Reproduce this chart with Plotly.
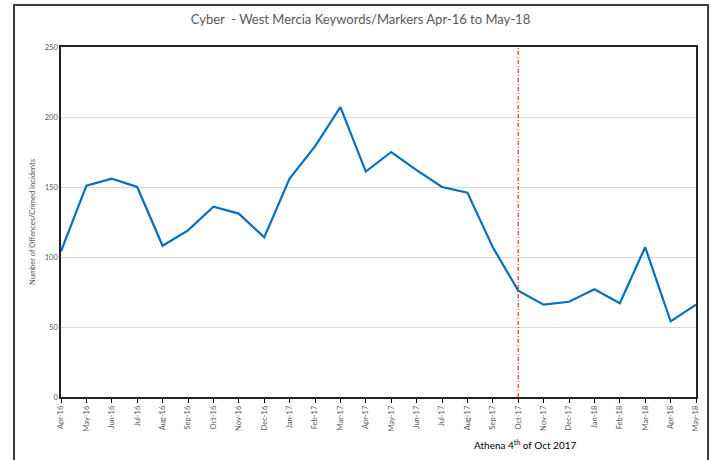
import plotly.graph_objects as go

months = [
    "Apr-16", "May-16", "Jun-16", "Jul-16", "Aug-16", "Sep-16", "Oct-16", "Nov-16", "Dec-16",
    "Jan-17", "Feb-17", "Mar-17", "Apr-17", "May-17", "Jun-17", "Jul-17", "Aug-17", "Sep-17",
    "Oct-17", "Nov-17", "Dec-17", "Jan-18", "Feb-18", "Mar-18", "Apr-18", "May-18",
]
incidents = [
    104, 151, 156, 150, 108, 119, 136, 131, 114,
    156, 179, 207, 161, 175, 162, 150, 146, 107,
    76, 66, 68, 77, 67, 107, 54, 66,
]
athena_month = "Oct-17"
y_ticks = [0, 50, 100, 150, 200, 250]

FONT = "Lato, 'Open Sans', sans-serif"
GREY = "#595959"

fig = go.Figure()
fig.add_trace(go.Scatter(
    x=months, y=incidents, mode="lines",
    line=dict(color="#0070C0", width=2.2),
    showlegend=False,
))

# Athena launch marker
fig.add_shape(
    type="line", xref="x", yref="y",
    x0=athena_month, x1=athena_month, y0=0, y1=250,
    line=dict(color="#FF0000", width=1, dash="4px,2px,1px,2px"),
)

# outer chart frame
fig.add_shape(
    type="rect", xref="paper", yref="paper",
    x0=-0.074, x1=1.019, y0=-0.21, y1=1.12,
    line=dict(color="#3a3a3a", width=2), layer="above",
)

fig.add_annotation(
    text="Athena 4<sup>th</sup> of Oct 2017",
    xref="paper", yref="paper", x=0.731, y=-0.137,
    xanchor="center", yanchor="middle",
    showarrow=False, font=dict(family=FONT, size=10, color="#000000"),
)

fig.update_layout(
    width=711, height=460,
    margin=dict(l=61, r=15, t=47, b=63),
    paper_bgcolor="white", plot_bgcolor="white",
    title=dict(
        text="Cyber  - West Mercia Keywords/Markers Apr-16 to May-18",
        x=0.507, xanchor="center", y=0.957, yanchor="middle",
        font=dict(family=FONT, size=13, color=GREY),
    ),
    font=dict(family=FONT, color=GREY),
)

fig.update_xaxes(
    type="category", range=[0, len(months) - 1],
    tickangle=-90, tickfont=dict(size=7.5, color=GREY),
    ticks="outside", ticklen=4, tickcolor="#000000",
    showline=True, linecolor="#222222", linewidth=1.5, mirror=True,
    showgrid=False, zeroline=False,
)
fig.update_yaxes(
    range=[0, 250], tickvals=y_ticks,
    tickfont=dict(size=7.5, color=GREY),
    showline=True, linecolor="#222222", linewidth=1.5, mirror=True,
    showgrid=True, gridcolor="#d9d9d9", gridwidth=1, zeroline=False,
    title=dict(text="Number of Offences/Crimed Incidents",
               font=dict(size=7.5, color=GREY), standoff=8),
)

fig.write_html(
    "out.html",
    config={"displayModeBar": False},
    post_script="document.body.style.margin = '0';",
)
